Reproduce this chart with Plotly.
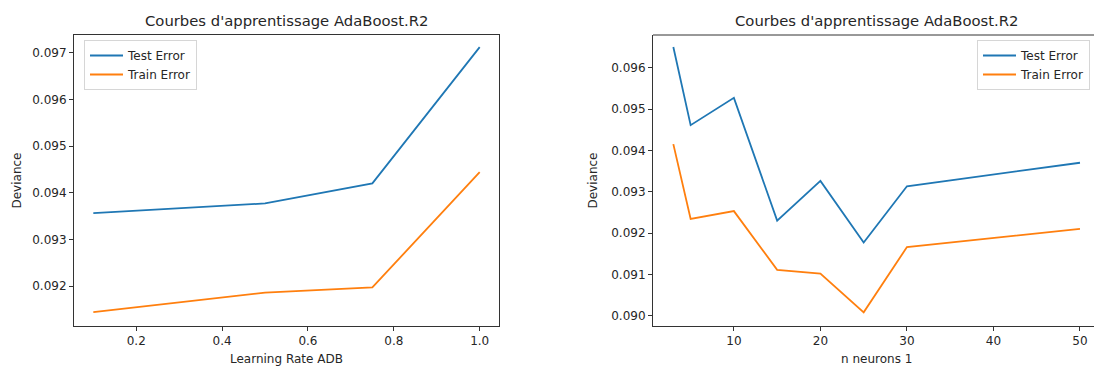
import plotly.graph_objects as go

# ---- data ----
lr_values = [0.1, 0.5, 0.75, 1.0]
lr_test_error = [0.09356, 0.09377, 0.09420, 0.09712]
lr_train_error = [0.09144, 0.09186, 0.09197, 0.09444]

neurons = [3, 5, 10, 15, 20, 25, 30, 50]
nn_test_error = [0.09650, 0.09461, 0.09527, 0.09230, 0.09326, 0.09177, 0.09313, 0.09370]
nn_train_error = [0.09415, 0.09234, 0.09253, 0.09111, 0.09102, 0.09008, 0.09166, 0.09210]

left_xticks = [0.2, 0.4, 0.6, 0.8, 1.0]
left_yticks = [0.092, 0.093, 0.094, 0.095, 0.096, 0.097]
right_xticks = [10, 20, 30, 40, 50]
right_yticks = [0.090, 0.091, 0.092, 0.093, 0.094, 0.095, 0.096]

title_text = "Courbes d'apprentissage AdaBoost.R2"
BLUE = "#1f77b4"
ORANGE = "#ff7f0e"
W, H = 1094, 367
FONT = "DejaVu Sans"
FS = 12
TFS = 14.8

fig = go.Figure()
fig.add_trace(go.Scatter(x=lr_values, y=lr_test_error, mode="lines", name="Test Error",
                         line=dict(color=BLUE, width=1.8), xaxis="x", yaxis="y", legend="legend"))
fig.add_trace(go.Scatter(x=lr_values, y=lr_train_error, mode="lines", name="Train Error",
                         line=dict(color=ORANGE, width=1.8), xaxis="x", yaxis="y", legend="legend"))
fig.add_trace(go.Scatter(x=neurons, y=nn_test_error, mode="lines", name="Test Error",
                         line=dict(color=BLUE, width=1.8), xaxis="x2", yaxis="y2", legend="legend2"))
fig.add_trace(go.Scatter(x=neurons, y=nn_train_error, mode="lines", name="Train Error",
                         line=dict(color=ORANGE, width=1.8), xaxis="x2", yaxis="y2", legend="legend2"))

def px_x(p):
    return p / W

def px_y(p):
    return 1 - p / H

top, bottom = 35, 326
l1, r1 = 74, 499
l2 = 653

axis_common = dict(showgrid=False, zeroline=False, showline=True, linecolor="#333333", linewidth=1,
                   ticks="outside", ticklen=4, tickwidth=1, tickcolor="#333333",
                   tickfont=dict(family=FONT, size=FS, color="#262626"))

legend_common = dict(xanchor="left", yanchor="top",
                     bgcolor="rgba(255,255,255,0.8)", bordercolor="#d6d6d6", borderwidth=1,
                     font=dict(family=FONT, size=FS, color="#262626"), tracegroupgap=0, itemwidth=33)

fig.update_layout(
    width=W, height=H,
    margin=dict(l=0, r=0, t=0, b=0),
    paper_bgcolor="white", plot_bgcolor="white",
    font=dict(family=FONT, size=FS, color="#262626"),
    xaxis=dict(domain=[px_x(l1), px_x(r1)], range=[0.055, 1.045], tickvals=left_xticks,
               ticktext=[f"{v:.1f}" for v in left_xticks], mirror=True, anchor="y", **axis_common),
    yaxis=dict(domain=[px_y(bottom), px_y(top)], range=[0.091143, 0.097379], tickvals=left_yticks,
               ticktext=[f"{v:.3f}" for v in left_yticks], mirror=True, anchor="x", **axis_common),
    xaxis2=dict(domain=[px_x(l2), 1.0], range=[0.65, 51.62], tickvals=right_xticks,
                ticktext=[str(v) for v in right_xticks], anchor="y2", **axis_common),
    yaxis2=dict(domain=[px_y(bottom), px_y(top)], range=[0.08975, 0.096791], tickvals=right_yticks,
                ticktext=[f"{v:.3f}" for v in right_yticks], anchor="x2", **axis_common),
    legend=dict(x=px_x(84), y=px_y(40), **legend_common),
    legend2=dict(x=px_x(977), y=px_y(40), **legend_common),
    showlegend=True,
)

# top frame line of the right panel (right side is cut off in the reference)
fig.add_shape(type="line", xref="paper", yref="paper", x0=px_x(l2), x1=1.0, y0=px_y(top), y1=px_y(top),
              line=dict(color="#333333", width=1))

annotations = [
    dict(text=title_text, x=px_x((l1 + r1) / 2), y=px_y(21), size=TFS, angle=0),
    dict(text=title_text, x=px_x((l2 + 1100) / 2), y=px_y(21), size=TFS, angle=0),
    dict(text="Learning Rate ADB", x=px_x((l1 + r1) / 2), y=px_y(359), size=FS, angle=0),
    dict(text="n neurons 1", x=px_x((l2 + 1100) / 2), y=px_y(359), size=FS, angle=0),
    dict(text="Deviance", x=px_x(16), y=px_y((top + bottom) / 2), size=FS, angle=-90),
    dict(text="Deviance", x=px_x(592), y=px_y((top + bottom) / 2), size=FS, angle=-90),
]
for a in annotations:
    fig.add_annotation(xref="paper", yref="paper", showarrow=False, xanchor="center", yanchor="middle",
                       text=a["text"], x=a["x"], y=a["y"], textangle=a["angle"],
                       font=dict(family=FONT, color="#262626", size=a["size"]))

fig.write_html("out.html")
